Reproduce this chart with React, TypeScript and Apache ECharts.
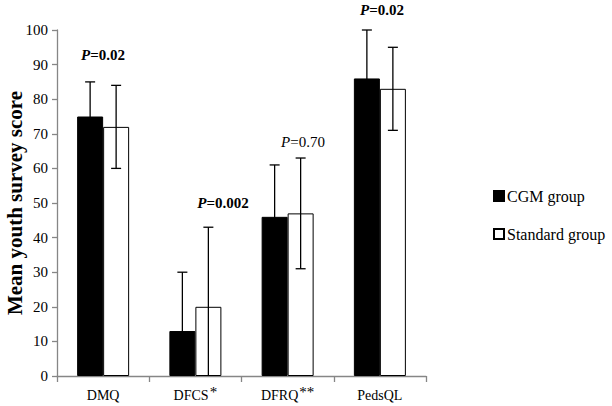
import React, { useEffect, useRef } from "react";
import * as echarts from "echarts";

const categories = ["DMQ", "DFCS", "DFRQ", "PedsQL"];
const superscripts = ["", "*", "**", ""];
const cgmMeans = [75, 13, 46, 86];
const cgmSD = [10, 17, 15, 14];
const stdMeans = [72, 20, 47, 83];
const stdSD = [12, 23, 16, 12];
const yTicks = { min: 0, max: 100, interval: 10 };
const pLabels = [
  { text: "0.02", bold: true, x: 103, y: 55 },
  { text: "0.002", bold: true, x: 223, y: 203 },
  { text: "0.70", bold: false, x: 303, y: 142 },
  { text: "0.02", bold: true, x: 382, y: 10 },
];

const FONT = "Liberation Serif";
const BAR_W = 26;

function errorSeries(name: string, means: number[], sds: number[], offset: number) {
  return {
    type: "custom",
    name: name + "-err",
    z: 10,
    silent: true,
    data: means.map((m, i) => [i, m, sds[i]]),
    renderItem: (params: any, api: any) => {
      const cat = api.value(0);
      const mean = api.value(1);
      const sd = api.value(2);
      const top = api.coord([cat, mean + sd]);
      const lowV = Math.max(0, mean - sd);
      const bot = api.coord([cat, lowV]);
      const x = top[0] + offset;
      const style = { stroke: "#000", lineWidth: 1.3 };
      const children: any[] = [
        { type: "line", shape: { x1: x, y1: top[1], x2: x, y2: bot[1] }, style },
        { type: "line", shape: { x1: x - 5, y1: top[1], x2: x + 5, y2: top[1] }, style },
      ];
      if (mean - sd >= 0) {
        children.push({ type: "line", shape: { x1: x - 5, y1: bot[1], x2: x + 5, y2: bot[1] }, style });
      }
      return { type: "group", children };
    },
  };
}

export default function App() {
  const ref = useRef<HTMLDivElement>(null);
  useEffect(() => {
    if (!ref.current) return;
    const chart = echarts.init(ref.current, null, { renderer: "svg" });
    chart.setOption({
      animation: false,
      textStyle: { fontFamily: FONT },
      grid: { left: 57, right: 186, top: 30, bottom: 30, containLabel: false, outerBoundsMode: "none" },
      legend: {
        orient: "vertical",
        left: 488,
        top: 183,
        itemWidth: 10,
        itemHeight: 10,
        itemGap: 22,
        icon: "rect",
        data: ["CGM group", "Standard group"],
        textStyle: { fontFamily: FONT, fontSize: 16, color: "#000", padding: [0, 0, 0, -2] },
      },
      xAxis: {
        type: "category",
        data: categories,
        axisLine: { lineStyle: { color: "#868686", width: 1.3 } },
        axisTick: { show: true, length: 6, lineStyle: { color: "#868686", width: 1.3 } },
        axisLabel: {
          interval: 0,
          margin: 11,
          color: "#000",
          fontFamily: FONT,
          fontSize: 14,
          formatter: (v: string) => {
            const i = categories.indexOf(v);
            return superscripts[i] ? `{n|${v}}{s|${superscripts[i]}}` : `{n|${v}}`;
          },
          rich: {
            n: { fontFamily: FONT, fontSize: 14, color: "#000", lineHeight: 16 },
            s: { fontFamily: FONT, fontSize: 15, color: "#000", lineHeight: 16, padding: [0, 0, 7, 1] },
          },
        },
      },
      yAxis: {
        type: "value",
        min: yTicks.min,
        max: yTicks.max,
        interval: yTicks.interval,
        name: "Mean youth survey score",
        nameLocation: "middle",
        nameGap: 32,
        nameMoveOverlap: false,
        nameTextStyle: { fontFamily: FONT, fontSize: 21, fontWeight: "bold", color: "#000" },
        splitLine: { show: false },
        axisLine: { show: true, lineStyle: { color: "#868686", width: 1.3 } },
        axisTick: { show: true, length: 5, lineStyle: { color: "#868686", width: 1.3 } },
        axisLabel: { color: "#000", fontFamily: FONT, fontSize: 15, margin: 9 },
      },
      series: [
        {
          type: "bar",
          name: "CGM group",
          data: cgmMeans,
          barWidth: BAR_W,
          barGap: "0%",
          itemStyle: { color: "#000", borderColor: "#000", borderWidth: 1 },
        },
        {
          type: "bar",
          name: "Standard group",
          data: stdMeans,
          barWidth: BAR_W,
          barGap: "0%",
          itemStyle: { color: "#fff", borderColor: "#000", borderWidth: 1 },
        },
        errorSeries("CGM group", cgmMeans, cgmSD, -BAR_W / 2),
        errorSeries("Standard group", stdMeans, stdSD, BAR_W / 2),
      ],
      graphic: pLabels.map((p) => ({
        type: "text",
        x: p.x,
        y: p.y,
        style: {
          text: `{p|P}{v|=${p.text}}`,
          align: "center",
          verticalAlign: "middle",
          rich: {
            p: { fontFamily: FONT, fontSize: 15, fontStyle: "italic", fontWeight: p.bold ? "bold" : "normal", fill: "#000" },
            v: { fontFamily: FONT, fontSize: 15, fontWeight: p.bold ? "bold" : "normal", fill: "#000" },
          },
        },
      })),
    });
    return () => chart.dispose();
  }, []);
  return <div ref={ref} style={{ width: 612, height: 406, position: "absolute", left: 0, top: 0 }} />;
}
